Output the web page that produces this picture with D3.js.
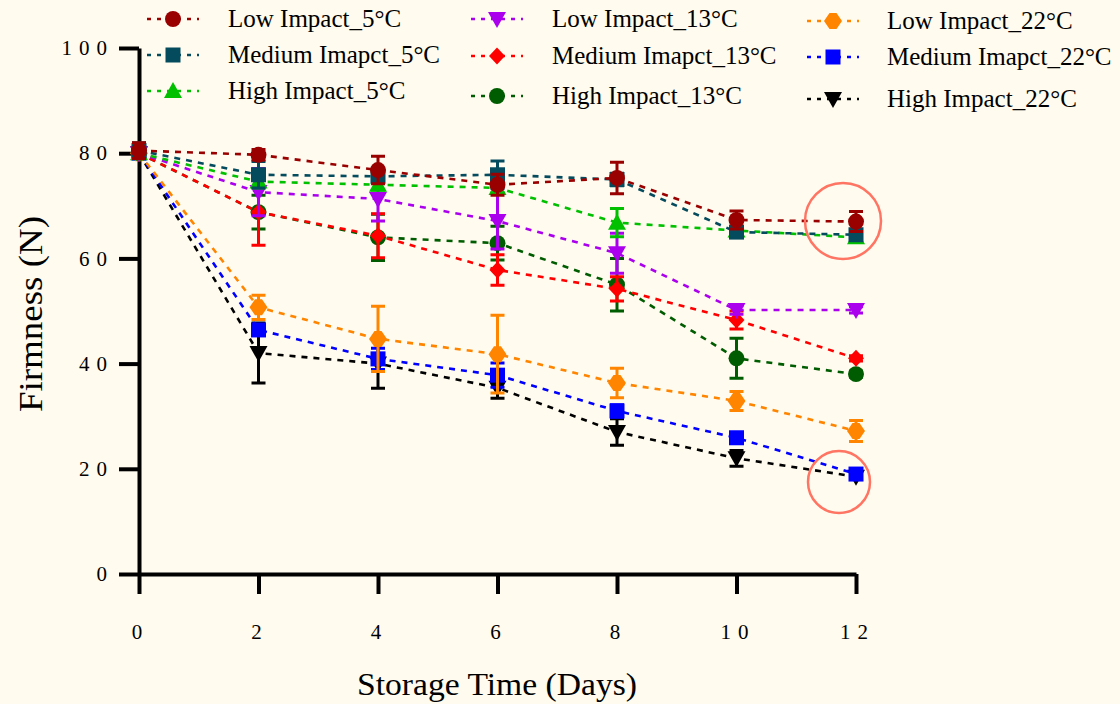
<!DOCTYPE html>
<html>
<head>
<meta charset="utf-8">
<script src="https://cdn.jsdelivr.net/npm/d3@7"></script>
<style>
  body { margin: 0; background: #fffbee; }
  svg { display: block; }
  text { font-family: "Liberation Serif", "Times New Roman", serif; fill: #000; }
</style>
</head>
<body>
<script>
// storage days
var days = [0, 2, 4, 6, 8, 10, 12];

// series names (kept as in original legend)
var names = ["Low Impact_5°C", "Medium Imapct_5°C", "High Impact_5°C",
             "Low Impact_13°C", "Medium Imapct_13°C", "High Impact_13°C",
             "Low Impact_22°C", "Medium Imapct_22°C", "High Impact_22°C"];

// mean firmness (N)
var li5  = [80.5, 79.7, 76.8, 74.0, 75.3, 67.3, 67.0];
var mi5  = [80.5, 75.9, 75.6, 75.9, 75.0, 65.0, 64.5];
var hi5  = [80.0, 74.6, 74.0, 73.4, 66.8, 65.3, 64.0];
var li13 = [80.0, 72.6, 71.3, 67.1, 61.0, 50.2, 50.2];
var mi13 = [80.0, 68.8, 64.3, 57.8, 54.2, 48.3, 41.0];
var hi13 = [80.0, 68.8, 64.0, 62.9, 55.0, 41.0, 38.0];
var li22 = [80.0, 50.7, 44.7, 41.8, 36.3, 32.9, 27.2];
var mi22 = [80.0, 46.4, 40.9, 37.8, 31.0, 25.9, 19.0];
var hi22 = [80.0, 42.0, 40.0, 35.4, 27.0, 22.0, 18.5];

// standard errors
var li5e  = [1.5, 1.0, 2.6, 2.0, 3.0, 1.7, 1.9];
var mi5e  = [1.5, 2.5, 1.0, 2.6, 1.2, 0.8, 0.8];
var hi5e  = [1.0, 1.2, 1.0, 1.0, 2.7, 0.8, 0.8];
var li13e = [1.0, 4.5, 4.2, 5.3, 3.8, 0.8, 0.6];
var mi13e = [1.0, 6.3, 4.2, 2.9, 2.3, 1.7, 0.5];
var hi13e = [1.0, 3.2, 4.4, 3.2, 5.0, 3.8, 0.6];
var li22e = [1.0, 2.3, 6.2, 7.4, 2.8, 1.8, 2.0];
var mi22e = [1.0, 1.0, 2.0, 2.3, 1.2, 0.8, 0.6];
var hi22e = [1.0, 5.7, 4.7, 2.0, 2.5, 1.5, 0.5];

var yTicks = [0, 20, 40, 60, 80, 100];
var xTicks = [0, 2, 4, 6, 8, 10, 12];

var colors = ["#990000", "#054b5e", "#00c000", "#aa00ee", "#ff0000", "#005c00", "#ff8500", "#0000ff", "#000000"];
var shapes = ["circle", "square", "up", "down", "diamond", "circle", "octo", "square", "down"];

var means = [li5, mi5, hi5, li13, mi13, hi13, li22, mi22, hi22];
var errs  = [li5e, mi5e, hi5e, li13e, mi13e, hi13e, li22e, mi22e, hi22e];

var width = 1120, height = 704;

var svg = d3.select("body").append("svg")
    .attr("width", width)
    .attr("height", height);

svg.append("rect").attr("width", width).attr("height", height).attr("fill", "#fffbee");

var x = d3.scaleLinear().domain([0, 12]).range([139, 856]);
var y = d3.scaleLinear().domain([0, 100]).range([574, 48]);

//marker path for a given shape
function marker(shape) {
    if (shape == "circle") return d3.symbol(d3.symbolCircle, 200)();
    if (shape == "square") return d3.symbol(d3.symbolSquare, 225)();
    if (shape == "up") return "M0,-9L9,7L-9,7Z";
    if (shape == "down") return "M0,9L9,-7L-9,-7Z";
    if (shape == "diamond") return "M0,-8.5L8,0L0,8.5L-8,0Z";
    if (shape == "octo") return "M-3.5,-8L3.5,-8L9,0L3.5,8L-3.5,8L-9,0Z";
}

//axes
var yAxis = svg.append("g")
    .attr("transform", "translate(139,0)")
    .call(d3.axisLeft(y).tickValues(yTicks).tickSize(20).tickSizeOuter(0));

var xAxis = svg.append("g")
    .attr("transform", "translate(0,574)")
    .call(d3.axisBottom(x).tickValues(xTicks).tickSize(20).tickSizeOuter(0));

[yAxis, xAxis].forEach(function(a) {
    a.select(".domain").attr("stroke", "#000").attr("stroke-width", 4);
    a.selectAll(".tick line").attr("stroke", "#000").attr("stroke-width", 4);
    a.selectAll(".tick text")
        .style("font-family", "Liberation Serif")
        .style("font-size", "21px")
        .style("letter-spacing", "7px");
});
yAxis.selectAll(".tick text").attr("x", -25);
xAxis.selectAll(".tick text").attr("y", 65).attr("dy", 0).attr("dx", 1);

//axis titles
svg.append("text")
    .attr("transform", "translate(42,314) rotate(-90)")
    .attr("text-anchor", "middle")
    .attr("textLength", 196)
    .attr("lengthAdjust", "spacingAndGlyphs")
    .style("font-size", "34px")
    .text("Firmness (N)");

svg.append("text")
    .attr("x", 497)
    .attr("y", 695)
    .attr("text-anchor", "middle")
    .attr("textLength", 280)
    .attr("lengthAdjust", "spacingAndGlyphs")
    .style("font-size", "31px")
    .text("Storage Time (Days)");

var line = d3.line()
    .x(function(d, i) { return x(days[i]); })
    .y(function(d) { return y(d); });

//draw series, last legend entry first
for (var s = names.length - 1; s >= 0; s--) {
    var g = svg.append("g").attr("class", "series");
    var c = colors[s];

    g.append("path")
        .datum(means[s])
        .attr("d", line)
        .attr("fill", "none")
        .attr("stroke", c)
        .attr("stroke-width", 2.6)
        .attr("stroke-dasharray", "6,6");

    var pts = days.map(function(d, i) { return { d: d, m: means[s][i], e: errs[s][i] }; });

    g.selectAll(".err")
        .data(pts).enter()
        .append("path")
        .attr("class", "err")
        .attr("d", function(p) {
            var cx = x(p.d), t = y(p.m + p.e), b = y(p.m - p.e);
            return "M" + (cx - 7) + "," + t + "H" + (cx + 7) +
                   "M" + cx + "," + t + "V" + b +
                   "M" + (cx - 7) + "," + b + "H" + (cx + 7);
        })
        .attr("fill", "none")
        .attr("stroke", c)
        .attr("stroke-width", 3);

    g.selectAll(".mk")
        .data(pts).enter()
        .append("path")
        .attr("class", "mk")
        .attr("transform", function(p) { return "translate(" + x(p.d) + "," + y(p.m) + ")"; })
        .attr("d", marker(shapes[s]))
        .attr("fill", c);
}

//highlight circles
svg.append("circle").attr("cx", 843).attr("cy", 221).attr("r", 38)
    .attr("fill", "none").attr("stroke", "#ff7462").attr("stroke-width", 2.5);
svg.append("circle").attr("cx", 839).attr("cy", 482).attr("r", 31)
    .attr("fill", "none").attr("stroke", "#ff7462").attr("stroke-width", 2.5);

//legend: 3 columns
var legX = [173, 497, 833];
var legTextX = [228, 552, 887];
var legY = [[19, 55, 91], [19, 56, 96], [21, 57, 99]];

names.forEach(function(n, i) {
    var col = Math.floor(i / 3), row = i % 3;
    var lx = legX[col], ly = legY[col][row];
    var lg = svg.append("g").attr("class", "legend");
    lg.append("line")
        .attr("x1", lx - 26).attr("x2", lx + 26)
        .attr("y1", ly).attr("y2", ly)
        .attr("stroke", colors[i])
        .attr("stroke-width", 2.6)
        .attr("stroke-dasharray", "4,6");
    lg.append("path")
        .attr("transform", "translate(" + lx + "," + ly + ")")
        .attr("d", marker(shapes[i]))
        .attr("fill", colors[i]);
    lg.append("text")
        .attr("x", legTextX[col])
        .attr("y", ly + 8)
        .style("font-size", "25px")
        .text(n);
});
</script>
</body>
</html>
